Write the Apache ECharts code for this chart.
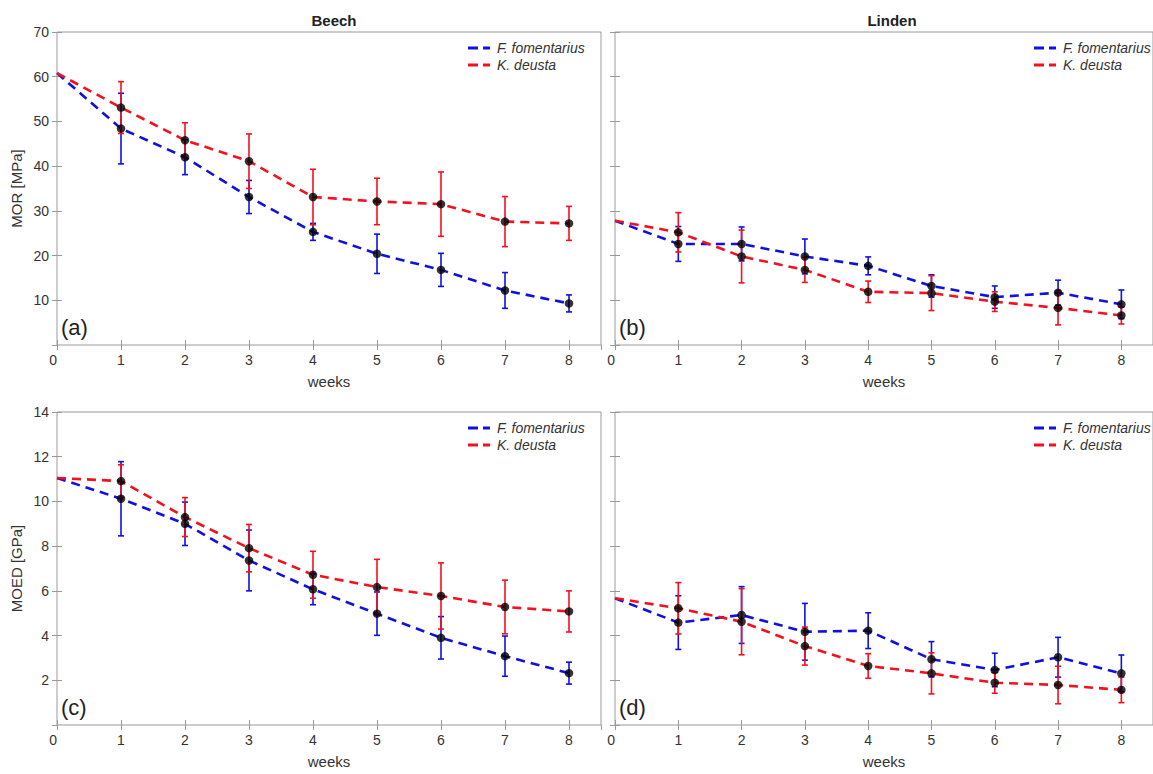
<!DOCTYPE html>
<html>
<head>
<meta charset="utf-8">
<script src="https://cdn.jsdelivr.net/npm/echarts@6/dist/echarts.min.js"></script>
<style>
  html, body { margin: 0; background: #fff; }
  #chart { width: 1153px; height: 774px; }
</style>
</head>
<body>
<div id="chart"></div>
<script>
// weeks of fungal exposure
const weeks = [0, 1, 2, 3, 4, 5, 6, 7, 8];
const seriesNames = ['F. fomentarius', 'K. deusta'];

// MOR [MPa], beech
const beechMorF = [60.8, 48.4, 42.0, 33.1, 25.3, 20.4, 16.8, 12.2, 9.3];
const beechMorFErr = [7.9, 3.9, 3.7, 1.9, 4.4, 3.7, 4.0, 1.9];
const beechMorK = [60.8, 53.1, 45.8, 41.1, 33.1, 32.1, 31.5, 27.6, 27.2];
const beechMorKErr = [5.8, 3.9, 6.1, 6.2, 5.2, 7.2, 5.6, 3.8];

// MOR [MPa], linden
const lindenMorF = [27.8, 22.6, 22.6, 19.8, 17.7, 13.2, 10.7, 11.7, 9.1];
const lindenMorFErr = [3.9, 3.8, 3.9, 2.0, 2.5, 2.5, 2.8, 3.2];
const lindenMorK = [27.8, 25.2, 19.8, 16.8, 11.9, 11.6, 9.7, 8.3, 6.6];
const lindenMorKErr = [4.4, 5.9, 2.8, 2.4, 3.9, 2.2, 3.8, 1.9];

// MOED [GPa], beech
const beechMoedF = [11.05, 10.12, 9.0, 7.36, 6.07, 4.98, 3.90, 3.08, 2.32];
const beechMoedFErr = [1.66, 0.97, 1.36, 0.69, 0.97, 0.95, 0.9, 0.49];
const beechMoedK = [11.05, 10.91, 9.30, 7.91, 6.72, 6.17, 5.77, 5.28, 5.08];
const beechMoedKErr = [0.73, 0.87, 1.06, 1.05, 1.24, 1.48, 1.2, 0.92];

// MOED [GPa], linden
const lindenMoedF = [5.67, 4.58, 4.92, 4.17, 4.22, 2.94, 2.46, 3.03, 2.31];
const lindenMoedFErr = [1.2, 1.27, 1.27, 0.8, 0.79, 0.75, 0.89, 0.82];
const lindenMoedK = [5.67, 5.22, 4.62, 3.53, 2.64, 2.31, 1.89, 1.79, 1.57];
const lindenMoedKErr = [1.15, 1.48, 0.85, 0.55, 0.92, 0.47, 0.84, 0.57];

// y axes
const morMax = 70, morStep = 10;
const moedMax = 14, moedStep = 2;

const BLUE = '#1010e0';
const RED = '#f5101e';
const FONT = '"Liberation Sans", Arial, Helvetica, sans-serif';
const AXIS = '#9a9a9a';
const TEXT = '#333';
// dashed line sample for the legend
const DASH_ICON = 'path://M0,0h10v3h-10z M15,0h7v3h-7z';

const panels = [
  { left: 57,  top: 32,  yMax: morMax,  yStep: morStep,  yName: 'MOR [MPa]',  tag: '(a)', f: beechMorF,   fe: beechMorFErr,   k: beechMorK,   ke: beechMorKErr },
  { left: 615, top: 32,  yMax: morMax,  yStep: morStep,  yName: '',           tag: '(b)', f: lindenMorF,  fe: lindenMorFErr,  k: lindenMorK,  ke: lindenMorKErr },
  { left: 57,  top: 412, yMax: moedMax, yStep: moedStep, yName: 'MOED [GPa]', tag: '(c)', f: beechMoedF,  fe: beechMoedFErr,  k: beechMoedK,  ke: beechMoedKErr },
  { left: 615, top: 412, yMax: moedMax, yStep: moedStep, yName: '',           tag: '(d)', f: lindenMoedF, fe: lindenMoedFErr, k: lindenMoedK, ke: lindenMoedKErr }
];
const gridW = 544, gridH = 313;

const tick = { show: true, inside: true, length: 5, lineStyle: { color: AXIS } };

function errorBars(gi, values, errs, color) {
  return {
    type: 'custom',
    xAxisIndex: gi * 2,
    yAxisIndex: gi * 2,
    z: 3,
    silent: true,
    data: values.slice(1).map((v, i) => [weeks[i + 1], v - errs[i], v + errs[i]]),
    encode: { x: 0, y: [1, 2] },
    renderItem(params, api) {
      const x = api.value(0);
      const lo = api.coord([x, api.value(1)]);
      const hi = api.coord([x, api.value(2)]);
      const w = 3;
      const style = { stroke: color, lineWidth: 1.6 };
      return {
        type: 'group',
        children: [
          { type: 'line', shape: { x1: lo[0], y1: lo[1], x2: hi[0], y2: hi[1] }, style },
          { type: 'line', shape: { x1: lo[0] - w, y1: lo[1], x2: lo[0] + w, y2: lo[1] }, style },
          { type: 'line', shape: { x1: hi[0] - w, y1: hi[1], x2: hi[0] + w, y2: hi[1] }, style }
        ]
      };
    }
  };
}

const grid = [], xAxis = [], yAxis = [], series = [], legend = [], graphic = [];

panels.forEach((p, gi) => {
  grid.push({ left: p.left, top: p.top, width: gridW, height: gridH, show: true, borderColor: AXIS, borderWidth: 1, backgroundColor: '#fff' });

  xAxis.push({
    type: 'value', gridIndex: gi, min: 0, max: 8.5, interval: 1,
    axisLine: { show: false }, axisTick: tick, splitLine: { show: false },
    axisLabel: { color: TEXT, fontSize: 14, fontFamily: FONT, margin: 8, showMaxLabel: false, alignMinLabel: 'right' },
    name: 'weeks', nameLocation: 'middle', nameGap: 29,
    nameTextStyle: { color: TEXT, fontSize: 15, fontFamily: FONT }
  });
  xAxis.push({
    type: 'value', gridIndex: gi, position: 'top', min: 0, max: 8.5, interval: 1,
    axisLine: { show: false }, axisTick: tick, axisLabel: { show: false }, splitLine: { show: false }
  });

  const isLeft = p.yName !== '';
  yAxis.push({
    type: 'value', gridIndex: gi, min: 0, max: p.yMax, interval: p.yStep,
    axisLine: { show: false }, axisTick: tick, splitLine: { show: false },
    axisLabel: { show: isLeft, color: TEXT, fontSize: 14, fontFamily: FONT, margin: 8, showMinLabel: false },
    name: p.yName, nameLocation: 'middle', nameGap: 33,
    nameTextStyle: { color: TEXT, fontSize: 15, fontFamily: FONT }
  });
  yAxis.push({
    type: 'value', gridIndex: gi, position: 'right', min: 0, max: p.yMax, interval: p.yStep,
    axisLine: { show: false }, axisTick: tick, axisLabel: { show: false }, splitLine: { show: false }
  });

  [[p.f, p.fe, BLUE, seriesNames[0]], [p.k, p.ke, RED, seriesNames[1]]].forEach(([vals, errs, color, name]) => {
    series.push({
      type: 'line', name, xAxisIndex: gi * 2, yAxisIndex: gi * 2,
      data: weeks.map((w, i) => [w, vals[i]]),
      symbol: 'none', z: 2, silent: true,
      lineStyle: { color, width: 2.6, type: [9, 6] },
      itemStyle: { color }
    });
    series.push(errorBars(gi, vals, errs, color));
  });
  [p.f, p.k].forEach(vals => {
    series.push({
      type: 'scatter', xAxisIndex: gi * 2, yAxisIndex: gi * 2, z: 4, silent: true,
      data: weeks.slice(1).map((w, i) => [w, vals[i + 1]]),
      symbol: 'circle', symbolSize: 8.5, itemStyle: { color: '#000' }
    });
  });

  legend.push({
    data: seriesNames.map(n => ({ name: n, icon: DASH_ICON })),
    orient: 'vertical', padding: 0,
    left: p.left + (gi % 2 ? 419 : 411), top: p.top + 9,
    itemWidth: 22, itemHeight: 3, itemGap: 3, selectedMode: false,
    textStyle: { color: TEXT, fontSize: 14, fontStyle: 'italic', fontFamily: FONT, padding: [0, 0, 0, 2] }
  });

  graphic.push({
    type: 'text', left: p.left + 4, top: p.top + gridH - 29, z: 10,
    style: { text: p.tag, fontSize: 22, fontFamily: FONT, fill: '#222' }
  });
});

const option = {
  animation: false,
  backgroundColor: '#fff',
  title: [
    { text: 'Beech', left: 57 + gridW / 2, top: 8, textAlign: 'center', textStyle: { fontSize: 15, fontWeight: 'bold', color: '#222', fontFamily: FONT } },
    { text: 'Linden', left: 615 + gridW / 2, top: 8, textAlign: 'center', textStyle: { fontSize: 15, fontWeight: 'bold', color: '#222', fontFamily: FONT } }
  ],
  grid, xAxis, yAxis, series, legend, graphic
};

const chart = echarts.init(document.getElementById('chart'), null, { renderer: 'svg' });
chart.setOption(option);
</script>
</body>
</html>
